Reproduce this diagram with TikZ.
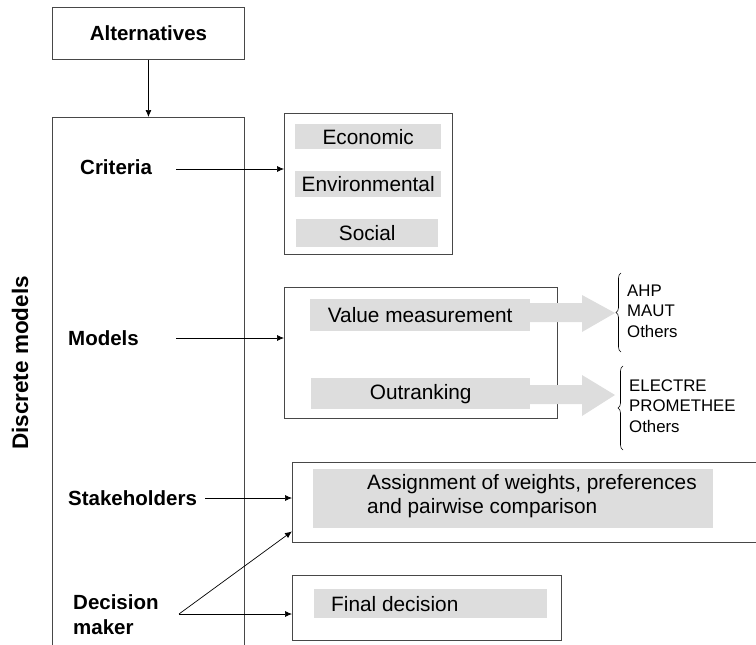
\documentclass[tikz,border=0pt]{standalone}
\usepackage{fontspec}
\setmainfont{Liberation Sans}
\usetikzlibrary{arrows.meta,decorations.pathreplacing}
\definecolor{barcol}{RGB}{221,221,221}
\definecolor{framecol}{RGB}{72,72,72}
\tikzset{
  frame/.style={draw=framecol,line width=0.9pt,inner sep=0pt,anchor=north west},
  hollow/.style={draw=none,inner sep=0pt,anchor=north west},
  bar/.style={fill=barcol,draw=none,inner sep=0pt,anchor=north west,
    font=\fontsize{20.8}{24}\selectfont},
  plain/.style={font=\fontsize{20.8}{24}\selectfont,inner sep=0pt},
  heading/.style={font=\bfseries\fontsize{20.5}{25}\selectfont,inner sep=0pt,align=left},
  listing/.style={font=\fontsize{16.8}{20.5}\selectfont,inner sep=0pt,align=left,anchor=west},
  conn/.style={-{Latex[length=7pt,width=6pt]},line width=0.7pt},
  edge/.style={draw=framecol,line width=0.9pt},
  blockarrow/.style={fill=barcol,draw=none},
  bracket/.style={decorate,decoration={brace,amplitude=5pt},line width=0.6pt}
}
\begin{document}
\begin{tikzpicture}[x=1pt,y=-1pt]
\useasboundingbox (0,0) rectangle (756,645);

% top box and the open frame of the discrete models
\node[frame,minimum width=192pt,minimum height=52pt] (alt) at (52,7) {};
\node[heading] (altlbl) at (alt.center) {Alternatives};
\node[hollow,minimum width=192pt,minimum height=528pt] (disc) at (52,117) {};
\draw[edge] (disc.south west) -- (disc.north west) -- (disc.north east) -- (disc.south east);
\draw[conn] (alt.south) -- (alt.south |- disc.north);

\node[heading,rotate=90,font=\bfseries\fontsize{22.5}{26}\selectfont] (discl) at (20,363) {Discrete models};

% criteria
\node[frame,minimum width=168pt,minimum height=141pt] (crit) at (284,113) {};
\node[bar,minimum width=146pt,minimum height=25pt] (eco) at (295,124) {Economic};
\node[bar,minimum width=146pt,minimum height=26pt] (env) at (295,171) {Environmental};
\node[bar,minimum width=142pt,minimum height=28pt] (soc) at (296,219) {Social};
\node[heading,anchor=west] (critlbl) at (80,167) {Criteria};
\coordinate (critsrc) at (176,169);
\draw[conn] (critsrc) -- (critsrc -| crit.west);

% models
\node[frame,minimum width=273pt,minimum height=131pt] (models) at (284,287) {};
\node[bar,minimum width=220pt,minimum height=32pt] (vm) at (310,299) {Value measurement};
\node[bar,minimum width=219pt,minimum height=31pt] (outr) at (311,378) {Outranking};
\node[heading,anchor=west] (modlbl) at (68,338) {Models};
\coordinate (modsrc) at (176,338);
\draw[conn] (modsrc) -- (modsrc -| models.west);

% broad arrows to the method lists
\fill[blockarrow] (530,303) -- (582,303) -- (582,295) -- (615,313) -- (582,332) -- (582,322) -- (530,322) -- cycle;
\fill[blockarrow] (530,385) -- (582,385) -- (582,375) -- (615,395) -- (582,416) -- (582,404) -- (530,404) -- cycle;

\coordinate (b1lo) at (621,352);
\coordinate (b1hi) at (621,273);
\draw[bracket] (b1lo) -- (b1hi);
\node[listing] (list1) at (627,311) {AHP\\MAUT\\Others};
\coordinate (b2lo) at (623,450);
\coordinate (b2hi) at (623,366);
\draw[bracket] (b2lo) -- (b2hi);
\node[listing] (list2) at (629,406) {ELECTRE\\PROMETHEE\\Others};

% stakeholders
\node[hollow,minimum width=464pt,minimum height=80pt] (assign) at (292,462) {};
\draw[edge] (assign.north east) -- (assign.north west) -- (assign.south west) -- (assign.south east);
\node[bar,minimum width=400pt,minimum height=59pt] (assignbar) at (313,469) {};
\node[plain,anchor=west,align=left] (assigntxt) at (367,496) {Assignment of weights, preferences\\and pairwise comparison};
\node[heading,anchor=west] (stake) at (68,498) {Stakeholders};
\coordinate (stakesrc) at (205,498);
\draw[conn] (stakesrc) -- (stakesrc -| assign.west);

% decision maker
\node[frame,minimum width=269pt,minimum height=65pt] (final) at (292,575) {};
\node[bar,minimum width=233pt,minimum height=29pt] (finalbar) at (314,589) {};
\node[plain,anchor=west] (finaltxt) at (331,604) {Final decision};
\node[heading,anchor=west] (dm) at (73,615) {Decision\\maker};
\coordinate (dmsrc) at (179,614);
\draw[conn] (dmsrc) -- ([yshift=11pt]assign.south west);
\draw[conn] (dmsrc) -- (dmsrc -| final.west);
\end{tikzpicture}
\end{document}
